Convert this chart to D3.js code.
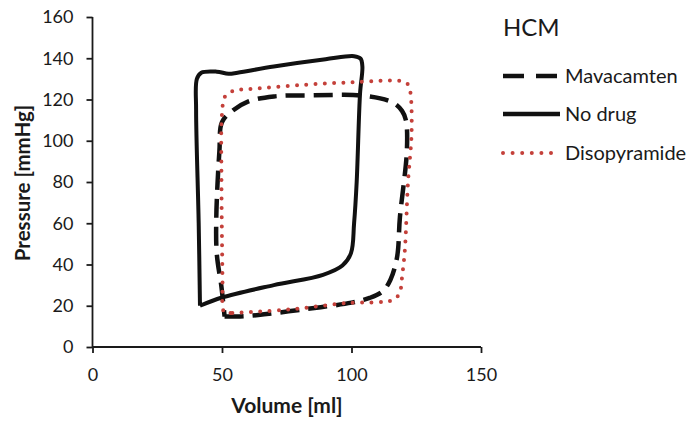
<!DOCTYPE html>
<html>
<head>
<meta charset="utf-8">
<script src="https://cdn.jsdelivr.net/npm/d3@7"></script>
<style>
  body { margin: 0; background: #fff; }
  text { font-family: Lato, "Open Sans", sans-serif; fill: #1a1a1a; }
</style>
</head>
<body>
<script>
// PV loop data, [volume ml, pressure mmHg]
// noDrug and mavacamten start and end on their sharp bottom-left corner
var noDrug = [[41.5,20],[50,24],[70,30],[89,35],[96.5,39.5],[99.8,45.5],[101,60],[102,80],
  [103.3,123],[104.2,136],[103.5,139.8],[101,141],[90,139.5],[70,136],[56,133],[52.5,132.5],
  [48,133.5],[42,133],[40.3,130],[40,115],[41,60],[41.5,20]];
var mavacamten = [[51,14.8],[57,14.8],[64,15.5],[83,18.5],[100,21.5],[107,23.8],[112,27],[115,32.5],
  [117.6,43.6],[118.7,63],[121.4,95.5],[121,110],[119.5,114.5],[116,118.5],[105,121.8],[85,122],
  [70,121.5],[60,119],[54,114.5],[50,109],[49,95],[47.8,63],[48,45],[49.8,29],[51,14.8]];
var disopyramide = [[51,16.5],[54,16.5],[76,18.2],[98,21.3],[116,22.8],[118.5,26],[119.6,35],
  [120.6,47],[121.8,79.5],[123.2,104],[122.8,123],[122,127],[119.5,128.8],[100,128.3],[80,127],
  [60,125],[55,124.5],[51.2,121.5],[50,113],[49.8,80],[50.2,31],[50.3,19]];

var xTicks = [0, 50, 100, 150];
var yTicks = [0, 20, 40, 60, 80, 100, 120, 140, 160];
var legendTitle = "HCM";
var legendItems = ["Mavacamten", "No drug", "Disopyramide"];

var width = 689, height = 421;
var red = "#c4403a";

var svg = d3.select("body").append("svg")
    .attr("width", width)
    .attr("height", height);

var x = d3.scaleLinear().domain([0, 150]).range([92.5, 481]);
var y = d3.scaleLinear().domain([0, 160]).range([347, 17]);

// axes
var xAxis = svg.append("g")
    .attr("transform", "translate(0," + y(0) + ")")
    .call(d3.axisBottom(x).tickValues(xTicks).tickSize(6).tickPadding(15));
var yAxis = svg.append("g")
    .attr("transform", "translate(" + x(0) + ",0)")
    .call(d3.axisLeft(y).tickValues(yTicks).tickSize(6).tickPadding(13));

[xAxis, yAxis].forEach(function(g) {
    g.selectAll("path, line").attr("stroke", "#1a1a1a").attr("stroke-width", 1.8);
    g.selectAll("text").style("font-size", "18px").attr("fill", "#1a1a1a");
    g.select(".domain").attr("d", g === xAxis
        ? "M" + x(0) + ",0H" + x(150)
        : "M0," + y(0) + "V" + y(160));
});

svg.append("text")
    .attr("x", 287).attr("y", 413)
    .attr("text-anchor", "middle")
    .style("font-size", "21px").style("font-weight", "bold")
    .text("Volume [ml]");

svg.append("text")
    .attr("transform", "translate(30,183) rotate(-90)")
    .attr("text-anchor", "middle")
    .style("font-size", "20.5px").style("font-weight", "bold")
    .text("Pressure [mmHg]");

// loops
var line = d3.line()
    .x(function(d) { return x(d[0]); })
    .y(function(d) { return y(d[1]); })
    .curve(d3.curveCatmullRom.alpha(0.5));
var closedLine = d3.line()
    .x(function(d) { return x(d[0]); })
    .y(function(d) { return y(d[1]); })
    .curve(d3.curveCatmullRomClosed.alpha(0.5));

svg.append("path").datum(noDrug)
    .attr("d", line)
    .attr("fill", "none").attr("stroke", "#111").attr("stroke-width", 4)
    .attr("stroke-linejoin", "round");

svg.append("path").datum(mavacamten)
    .attr("d", line)
    .attr("fill", "none").attr("stroke", "#111").attr("stroke-width", 4.5)
    .attr("stroke-dasharray", "19,9");

svg.append("path").datum(disopyramide)
    .attr("d", closedLine)
    .attr("fill", "none").attr("stroke", red).attr("stroke-width", 4)
    .attr("stroke-linecap", "round")
    .attr("stroke-dasharray", "0,9.3");

// legend
var legend = svg.append("g");
legend.append("text")
    .attr("x", 503).attr("y", 36)
    .style("font-size", "24px")
    .text(legendTitle);

var legendY = [76, 114, 153];
var styles = [
    {stroke: "#111", width: 4.5, dash: "21,12", cap: "butt"},
    {stroke: "#111", width: 4.5, dash: null, cap: "butt"},
    {stroke: red, width: 4, dash: "0,9.6", cap: "round"}
];
legendItems.forEach(function(name, i) {
    legend.append("line")
        .attr("x1", 503).attr("x2", i === 2 ? 553 : 560)
        .attr("y1", legendY[i]).attr("y2", legendY[i])
        .attr("stroke", styles[i].stroke)
        .attr("stroke-width", styles[i].width)
        .attr("stroke-linecap", styles[i].cap)
        .attr("stroke-dasharray", styles[i].dash);
    legend.append("text")
        .attr("x", 565).attr("y", legendY[i] + 7)
        .style("font-size", "20px")
        .text(name);
});
</script>
</body>
</html>
